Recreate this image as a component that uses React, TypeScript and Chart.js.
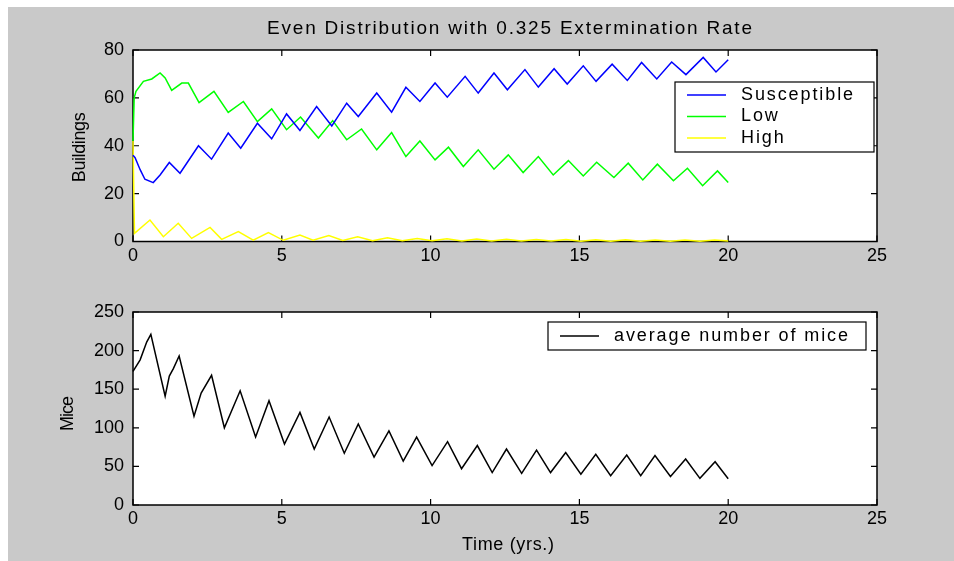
import React, { useEffect, useRef } from "react";
import { Chart, registerables } from "chart.js";

Chart.register(...registerables);

// ---------- text ----------
const TITLE = "Even Distribution with 0.325 Extermination Rate";
const Y_LABEL_TOP = "Buildings";
const Y_LABEL_BOTTOM = "Mice";
const X_LABEL = "Time (yrs.)";

// ---------- axes ----------
const X_MIN = 0;
const X_MAX = 25;
const X_STEP = 5;
const BUILDINGS_MAX = 80;
const BUILDINGS_STEP = 20;
const MICE_MAX = 250;
const MICE_STEP = 50;

// ---------- data ----------
const susceptibleT = [0, 0.07, 0.24, 0.4, 0.68, 0.91, 1.22, 1.58, 2.2, 2.64, 3.2, 3.62, 4.18, 4.66, 5.16, 5.61, 6.17, 6.68, 7.18, 7.57, 8.19, 8.69, 9.17, 9.64, 10.15, 10.56, 11.16, 11.6, 12.13, 12.58, 13.17, 13.62, 14.15, 14.59, 15.13, 15.56, 16.1, 16.61, 17.09, 17.6, 18.1, 18.58, 19.16, 19.59, 20];
const susceptibleV = [36, 35, 30, 26, 24.6, 27.8, 33, 28.5, 40, 34.4, 45.3, 39, 49.4, 42.9, 53.3, 46.4, 56.4, 48.3, 57.8, 52.2, 62, 54, 64.4, 58.5, 66.2, 60.3, 69, 62, 70.4, 63.4, 71.8, 64.5, 72.2, 65.8, 73.4, 66.9, 74.1, 67.3, 74.8, 67.9, 75, 69.7, 76.9, 70.8, 75.9];

const lowT = [0, 0.04, 0.1, 0.35, 0.63, 0.91, 1.08, 1.3, 1.64, 1.86, 2.22, 2.72, 3.2, 3.71, 4.18, 4.66, 5.16, 5.63, 6.23, 6.71, 7.18, 7.68, 8.19, 8.69, 9.17, 9.64, 10.15, 10.6, 11.1, 11.6, 12.13, 12.61, 13.11, 13.62, 14.12, 14.63, 15.13, 15.58, 16.16, 16.64, 17.13, 17.62, 18.16, 18.63, 19.14, 19.64, 20];
const lowV = [42, 60, 62.7, 66.9, 67.9, 70.4, 68.3, 63.1, 66.2, 66.2, 58, 62.7, 53.9, 58.5, 50.1, 55.4, 46.7, 52, 43.2, 50.5, 42.5, 47, 38.3, 45.5, 35.5, 42, 34.1, 39.4, 31.3, 38.3, 30.2, 36.2, 28.8, 35.5, 27.8, 33.8, 27.4, 33.1, 26.7, 32.7, 25.7, 32.3, 25.4, 30.6, 23.3, 29.5, 24.6];

const highT = [0, 0.05, 0.57, 1.02, 1.52, 1.97, 2.59, 2.98, 3.54, 4.04, 4.55, 5.05, 5.61, 6.05, 6.58, 7.05, 7.55, 8.05, 8.55, 9.05, 9.55, 10.05, 10.55, 11.05, 11.55, 12.05, 12.55, 13.05, 13.55, 14.05, 14.55, 15.05, 15.55, 16.05, 16.55, 17.05, 17.55, 18.05, 18.55, 19.05, 19.55, 20];
const highV = [42, 3.4, 9, 2, 7.6, 1.3, 5.9, 0.9, 4.1, 0.6, 3.7, 0.5, 2.7, 0.5, 2.5, 0.4, 2.0, 0.3, 1.6, 0.3, 1.3, 0.3, 1.1, 0.2, 1.0, 0.2, 0.9, 0.2, 0.8, 0.2, 0.8, 0.1, 0.7, 0.1, 0.7, 0.1, 0.6, 0.1, 0.6, 0.1, 0.6, 0.2];

const miceT = [0, 0.24, 0.46, 0.6, 1.08, 1.22, 1.36, 1.55, 2.05, 2.29, 2.64, 3.07, 3.6, 4.12, 4.57, 5.09, 5.61, 6.09, 6.59, 7.1, 7.57, 8.1, 8.6, 9.08, 9.53, 10.05, 10.57, 11.04, 11.57, 12.07, 12.55, 13.06, 13.56, 14.03, 14.54, 15.05, 15.55, 16.05, 16.59, 17.06, 17.54, 18.06, 18.57, 19.05, 19.56, 20];
const miceV = [173, 188, 211, 221, 141, 167, 177, 193, 115, 145, 168, 100, 148, 88, 135, 79, 120, 72.5, 114, 67, 105, 62, 96, 57, 88, 51, 82, 47, 77, 42, 72.5, 41, 71, 42, 68, 40, 65.6, 38, 64.8, 38, 64, 37, 59.6, 34.5, 56, 34];

// ---------- style ----------
const FONT_FAMILY = '"Liberation Sans", Arial, Helvetica, sans-serif';
const FONT_SIZE = 18;
const BG = "#c9c9c9";
const W = 946;
const H_TOP = 273;
const H_BOTTOM = 281;

function pts(t: number[], v: number[]) {
  return t.map((x, i) => ({ x, y: v[i] }));
}

function drawText(
  ctx: CanvasRenderingContext2D,
  text: string,
  x: number,
  y: number,
  opts: { width?: number; ls?: number; align?: CanvasTextAlign; rotate?: boolean; size?: number }
) {
  ctx.save();
  ctx.font = `${opts.size || FONT_SIZE}px ${FONT_FAMILY}`;
  ctx.fillStyle = "#000";
  ctx.textBaseline = "middle";
  ctx.textAlign = opts.align || "center";
  const n = Array.from(text).length;
  let ls = opts.ls || 0;
  if (opts.width !== undefined) {
    const w0 = ctx.measureText(text).width;
    ls = (opts.width - w0) / Math.max(1, n - 1);
  }
  (ctx as any).letterSpacing = `${ls}px`;
  ctx.translate(x, y);
  if (opts.rotate) ctx.rotate(-Math.PI / 2);
  const shift = (opts.align || "center") === "center" ? ls / 2 : 0;
  ctx.fillText(text, shift, 0);
  ctx.restore();
}

const framePlugin = {
  id: "matlabFrame",
  beforeDraw(chart: any) {
    const { ctx, chartArea: a } = chart;
    ctx.save();
    ctx.fillStyle = BG;
    ctx.fillRect(0, 0, chart.width, chart.height);
    ctx.fillStyle = "#fff";
    ctx.fillRect(a.left, a.top, a.right - a.left, a.bottom - a.top);
    ctx.restore();
  },
  beforeDatasetsDraw(chart: any) {
    const { ctx, chartArea: a, scales } = chart;
    ctx.save();
    ctx.strokeStyle = "#000";
    ctx.lineWidth = 1.5;
    ctx.strokeRect(a.left, a.top, a.right - a.left, a.bottom - a.top);
    ctx.lineWidth = 1.2;
    const L = 6;
    ctx.beginPath();
    scales.x.ticks.forEach((t: any) => {
      const px = scales.x.getPixelForValue(t.value);
      ctx.moveTo(px, a.bottom);
      ctx.lineTo(px, a.bottom - L);
      ctx.moveTo(px, a.top);
      ctx.lineTo(px, a.top + L);
    });
    scales.y.ticks.forEach((t: any) => {
      const py = scales.y.getPixelForValue(t.value);
      ctx.moveTo(a.left, py);
      ctx.lineTo(a.left + L, py);
      ctx.moveTo(a.right, py);
      ctx.lineTo(a.right - L, py);
    });
    ctx.stroke();
    ctx.restore();
  },
};

type LegendSpec = { right: number; top: number; w: number; h: number; rows: number[]; ls: number };

function makeAnnot(texts: (chart: any) => void, legend: LegendSpec) {
  return {
    id: "annot",
    afterDatasetsDraw(chart: any) {
      const { ctx, chartArea: a } = chart;
      const bx = a.right - legend.right - legend.w;
      const by = a.top + legend.top;
      ctx.save();
      ctx.fillStyle = "#fff";
      ctx.fillRect(bx, by, legend.w, legend.h);
      ctx.strokeStyle = "#000";
      ctx.lineWidth = 1.2;
      ctx.strokeRect(bx, by, legend.w, legend.h);
      chart.data.datasets.forEach((ds: any, i: number) => {
        const cy = by + legend.rows[i];
        ctx.strokeStyle = ds.borderColor;
        ctx.lineWidth = 1.5;
        ctx.beginPath();
        ctx.moveTo(bx + 12, cy);
        ctx.lineTo(bx + 51, cy);
        ctx.stroke();
        drawText(ctx, ds.label, bx + 66, cy, { ls: legend.ls, align: "left" });
      });
      ctx.restore();
      texts(chart);
    },
  };
}

const tickFont = { family: FONT_FAMILY, size: FONT_SIZE };

function baseOptions(yMax: number, yStep: number, padTop: number, xAxisH: number, xPad: number) {
  return {
    animation: false,
    responsive: false,
    devicePixelRatio: 1,
    layout: { padding: { left: 0, top: padTop, right: 77, bottom: 0 } },
    plugins: { legend: { display: false }, tooltip: { enabled: false }, title: { display: false } },
    elements: { line: { tension: 0 }, point: { radius: 0 } },
    scales: {
      x: {
        type: "linear",
        min: X_MIN,
        max: X_MAX,
        ticks: { stepSize: X_STEP, font: tickFont, color: "#000", padding: xPad, maxRotation: 0, autoSkip: false },
        grid: { display: false, drawTicks: false },
        border: { display: false },
        afterFit: (s: any) => {
          s.height = xAxisH;
        },
      },
      y: {
        type: "linear",
        min: 0,
        max: yMax,
        ticks: { stepSize: yStep, font: tickFont, color: "#000", padding: 9 },
        grid: { display: false, drawTicks: false },
        border: { display: false },
        afterFit: (s: any) => {
          s.width = 125;
        },
      },
    },
  };
}

function line(label: string, color: string, t: number[], v: number[]) {
  return { label, data: pts(t, v), borderColor: color, backgroundColor: color, borderWidth: 1.5, pointRadius: 0, fill: false, clip: false };
}

export default function App() {
  const topRef = useRef<HTMLCanvasElement>(null);
  const botRef = useRef<HTMLCanvasElement>(null);

  useEffect(() => {
    const topChart = new Chart(topRef.current as HTMLCanvasElement, {
      type: "line",
      data: {
        datasets: [
          line("Susceptible", "#0000ff", susceptibleT, susceptibleV),
          line("Low", "#00ff00", lowT, lowV),
          line("High", "#ffff00", highT, highV),
        ],
      },
      options: baseOptions(BUILDINGS_MAX, BUILDINGS_STEP, 43, H_TOP - 234.5, 4) as any,
      plugins: [
        framePlugin,
        makeAnnot(
          (chart: any) => {
            const a = chart.chartArea;
            drawText(chart.ctx, TITLE, (a.left + a.right) / 2 + 4.5, a.top - 21, { width: 485, size: 19 });
            drawText(chart.ctx, Y_LABEL_TOP, 72.5, (a.top + a.bottom) / 2 + 1.5, { width: 70, rotate: true });
          },
          { right: 3, top: 32, w: 199, h: 70, rows: [13, 34.5, 56], ls: 1.9 }
        ),
      ] as any,
    });

    const botChart = new Chart(botRef.current as HTMLCanvasElement, {
      type: "line",
      data: {
        datasets: [line("average number of mice", "#000000", miceT, miceV)],
      },
      options: baseOptions(MICE_MAX, MICE_STEP, 32, H_BOTTOM - 225, 3) as any,
      plugins: [
        framePlugin,
        makeAnnot(
          (chart: any) => {
            const a = chart.chartArea;
            drawText(chart.ctx, Y_LABEL_BOTTOM, 60, (a.top + a.bottom) / 2 + 5, { width: 35, rotate: true });
            drawText(chart.ctx, X_LABEL, (a.left + a.right) / 2 + 3, 265, { width: 92 });
          },
          { right: 11, top: 10, w: 318, h: 28, rows: [14], ls: 1.9 }
        ),
      ] as any,
    });

    return () => {
      topChart.destroy();
      botChart.destroy();
    };
  }, []);

  return (
    <div
      style={{
        position: "fixed",
        left: 8,
        top: 7,
        width: W,
        height: H_TOP + H_BOTTOM,
        background: BG,
        overflow: "hidden",
      }}
    >
      <canvas ref={topRef} width={W} height={H_TOP} style={{ position: "absolute", left: 0, top: 0, width: W, height: H_TOP }} />
      <canvas ref={botRef} width={W} height={H_BOTTOM} style={{ position: "absolute", left: 0, top: H_TOP, width: W, height: H_BOTTOM }} />
    </div>
  );
}
